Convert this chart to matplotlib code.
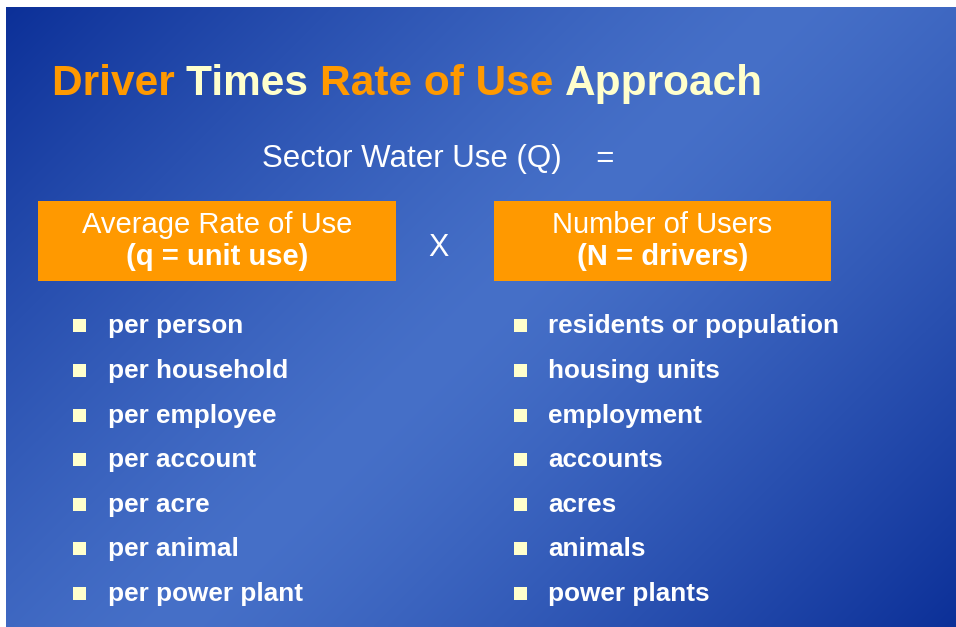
import numpy as np
import matplotlib
matplotlib.use("Agg")
import matplotlib.pyplot as plt
from matplotlib.patches import Rectangle

# slide text
title_parts = [("Driver ", "#ff9900"), ("Times ", "#ffffcc"),
               ("Rate of Use ", "#ff9900"), ("Approach", "#ffffcc")]
equation = "Sector Water Use (Q)    ="
left_box = ["Average Rate of Use", "(q = unit use)"]
right_box = ["Number of Users", "(N = drivers)"]
left_items = ["per person", "per household", "per employee", "per account",
              "per acre", "per animal", "per power plant"]
right_items = ["residents or population", "housing units", "employment",
               "accounts", "acres", "animals", "power plants"]

W, H = 956, 627
plt.rcParams['font.family'] = ['Liberation Sans', 'DejaVu Sans']
fig = plt.figure(figsize=(W / 100, H / 100), dpi=100)
ax = fig.add_axes([0, 0, 1, 1])
ax.set_xlim(0, W)
ax.set_ylim(H, 0)
ax.axis('off')

# background: reflected diagonal gradient, dark at top-left and bottom-right
x0, y0 = 6, 7
gx, gy = np.meshgrid(np.linspace(0, 1, 300), np.linspace(0, 1, 200))
t = (gx * (W - x0) + gy * (H - y0)) / ((W - x0) + (H - y0))
f = np.clip(np.abs(t - 0.5) * 2, 0, 1) ** 1.3
dark = np.array([12, 48, 152]) / 255
light = np.array([70, 112, 200]) / 255
img = light[None, None, :] * (1 - f[..., None]) + dark[None, None, :] * f[..., None]
ax.imshow(img, extent=[x0, W, H, y0], aspect='auto', interpolation='bilinear', zorder=0)

fig.canvas.draw()
renderer = fig.canvas.get_renderer()

# title in alternating colours
xpos = 52
for word, col in title_parts:
    tx = ax.text(xpos, 95, word, color=col, fontsize=30.5, fontweight='bold',
                 va='baseline', ha='left', zorder=3)
    bb = tx.get_window_extent(renderer)
    xpos += bb.width

ax.text(262, 167, equation, color='white', fontsize=22.5, va='baseline', ha='left', zorder=3)

# orange boxes
for (bx0, bx1), lines in [((38, 396), left_box), ((494, 831), right_box)]:
    ax.add_patch(Rectangle((bx0, 201), bx1 - bx0, 80, facecolor='#ff9900',
                           edgecolor='none', zorder=2))
    cx = (bx0 + bx1) / 2
    ax.text(cx, 233, lines[0], color='white', fontsize=21, va='baseline', ha='center', zorder=3)
    ax.text(cx, 265, lines[1], color='white', fontsize=21, fontweight='bold',
            va='baseline', ha='center', zorder=3)

ax.text(439, 256, "X", color='white', fontsize=22, va='baseline', ha='center', zorder=3)

# bullet lists
rows = [333, 378, 423, 467, 512, 556, 601]
for items, bx, txx in [(left_items, 73, 108), (right_items, 514, 548)]:
    for y, item in zip(rows, items):
        ax.add_patch(Rectangle((bx, y - 14), 13, 13, facecolor='#ffffcc',
                               edgecolor='none', zorder=2))
        ax.text(txx, y, item, color='white', fontsize=18.8, fontweight='bold',
                va='baseline', ha='left', zorder=3)

fig.savefig('out.png', dpi=100)
